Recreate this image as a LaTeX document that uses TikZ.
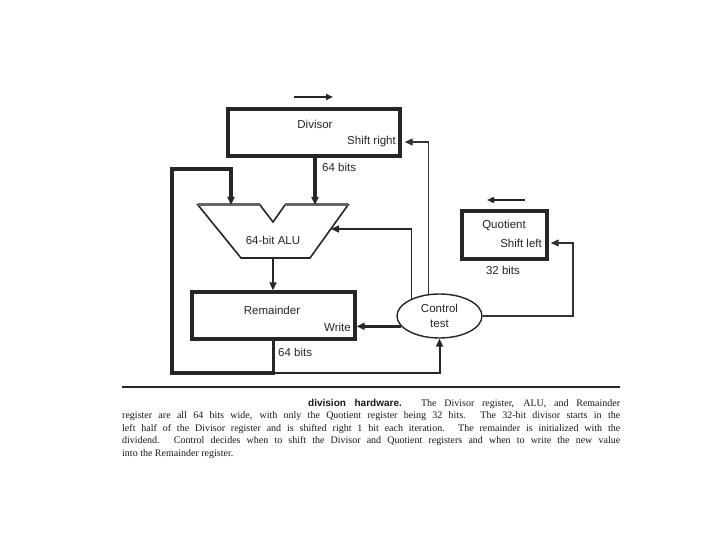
\documentclass[tikz,border=0pt]{standalone}
\usepackage{fontspec}
\setmainfont{Liberation Sans}
\newfontfamily\capserif{Liberation Serif}
\usetikzlibrary{arrows.meta,shapes.geometric}
\begin{document}
\begin{tikzpicture}[x=1pt,y=-1pt,
  regbox/.style={draw=black!85, line width=3.4pt, inner sep=0pt},
  lbl/.style={font=\fontsize{11.5}{13}\selectfont, inner sep=0pt, text=black!85},
  thickln/.style={draw=black!85, line width=3.6pt, line join=miter},
  medln/.style={draw=black!85, line width=2pt},
  ctlln/.style={draw=black!85, line width=1.5pt},
  thinln/.style={draw=black!80, line width=1.1pt},
  tip/.style={-{Triangle[length=8pt,width=7pt]}},
  smalltip/.style={-{Triangle[length=7pt,width=6pt]}},
  captext/.style={font=\capserif\fontsize{10}{12}\selectfont, inner sep=0pt, text=black!90}
]
\useasboundingbox (0,0) rectangle (720,540);
\fill[white] (0,0) rectangle (720,540);

% registers
\node[regbox, minimum width=172pt, minimum height=47pt] (div) at (314,132.5) {};
\node[lbl] (divname) at (315,124) {Divisor};
\node[lbl, anchor=east] (divsh) at (396,142) {Shift right};
\node[lbl, anchor=west] (divbits) at (322,167) {64 bits};

\node[regbox, minimum width=163pt, minimum height=47pt] (rem) at (273.5,315.5) {};
\node[lbl] (remname) at (272,310) {Remainder};
\node[lbl, anchor=east] (remwr) at (351,327) {Write};
\node[lbl, anchor=west] (rembits) at (278,352) {64 bits};

\node[regbox, minimum width=85pt, minimum height=48pt] (quo) at (504.5,235) {};
\node[lbl] (quoname) at (504,225) {Quotient};
\node[lbl, anchor=east] (quosh) at (542,243) {Shift left};
\node[lbl] (quobits) at (503,270) {32 bits};

\node[ellipse, draw=black!85, line width=1.4pt, minimum width=85pt, minimum height=44pt,
      inner sep=0pt, align=center, font=\fontsize{11.5}{15.5}\selectfont, text=black!85] (ctl) at (439.5,316) {Control\\test};

% ALU
\coordinate (A1) at (198,205);
\coordinate (A2) at (260,205);
\coordinate (A3) at (273,222);
\coordinate (A4) at (285,205);
\coordinate (A5) at (348,205);
\coordinate (A6) at (310,258);
\coordinate (A7) at (241,258);
\draw[black!85, line width=1.6pt, line join=miter] (A1) -- (A2) -- (A3) -- (A4) -- (A5) -- (A6) -- (A7) -- cycle;
\draw[black!60, line width=3pt] (A1) -- (A2) (A4) -- (A5);
\node[lbl] (aluname) at (273,240) {64-bit ALU};
\coordinate (aluLin) at (231,205);
\coordinate (aluRin) at (315,205);
\coordinate (aluOut) at (273,258);
\coordinate (aluCtl) at (331,229);

% loop coordinates
\coordinate (remOut) at (273.5,373);
\coordinate (loopBL) at (172,373);
\coordinate (loopTL) at (172,169);
\coordinate (qturn) at (573,243);

% connectors
\draw[thickln,tip] (div.south -| aluRin) -- (aluRin);
\draw[thickln,tip] (rem.south) -- (remOut) -- (loopBL) -- (loopTL) -- (loopTL -| aluLin) -- (aluLin);
\draw[medln,tip] (aluOut) -- (rem.north -| aluOut);
\draw[medln,tip] (remOut) -- (remOut -| ctl.south) -- (ctl.south);
\draw[thickln,tip] (ctl.195) -- (rem.east |- ctl.195);
\draw[ctlln,tip] (ctl.148) |- (aluCtl);
\draw[thinln,tip,shorten >=3pt] (ctl.116) |- (div.east |- divsh);
\draw[thinln,tip,shorten >=2pt] (ctl.east) -| (qturn) -- (quo.east |- qturn);

% direction arrows
\coordinate (dA1) at (294,97);
\coordinate (dA2) at (333,97);
\coordinate (qA1) at (525,200);
\coordinate (qA2) at (487,200);
\draw[medln,smalltip] (dA1) -- (dA2);
\draw[medln,smalltip] (qA1) -- (qA2);

% caption
\coordinate (r1) at (122,387);
\coordinate (r2) at (620,387);
\draw[black!85, line width=1.2pt] (r1) -- (r2);
\node[captext, anchor=base west] (c1) at (308,406) {\makebox[312pt][s]{{\fontspec{Liberation Sans}\bfseries division hardware.} The Divisor register, ALU, and Remainder}};
\node[captext, anchor=base west] (c2) at (122,418.5) {\makebox[498pt][s]{register are all 64 bits wide, with only the Quotient register being 32 bits. The 32-bit divisor starts in the}};
\node[captext, anchor=base west] (c3) at (122,431) {\makebox[498pt][s]{left half of the Divisor register and is shifted right 1 bit each iteration. The remainder is initialized with the}};
\node[captext, anchor=base west] (c4) at (122,443.5) {\makebox[498pt][s]{dividend. Control decides when to shift the Divisor and Quotient registers and when to write the new value}};
\node[captext, anchor=base west] (c5) at (122,456) {into the Remainder register.};
\end{tikzpicture}
\end{document}
